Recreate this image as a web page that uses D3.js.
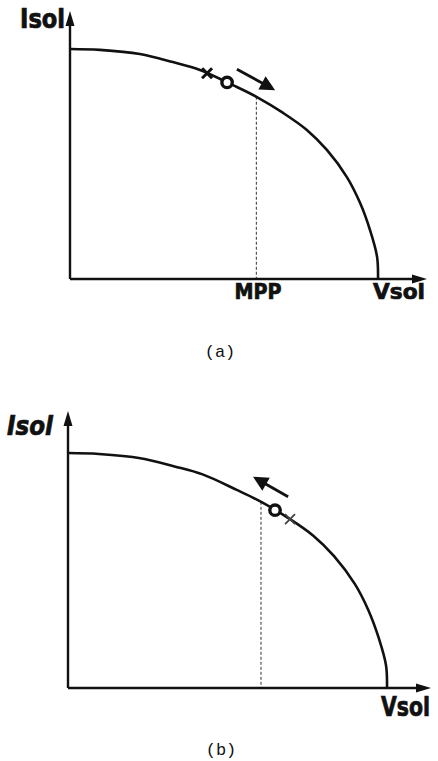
<!DOCTYPE html>
<html>
<head>
<meta charset="utf-8">
<script src="https://cdn.jsdelivr.net/npm/d3@7"></script>
<style>
  html, body { margin: 0; padding: 0; background: #fff; }
  svg { display: block; }
  .lbl { font-family: "Liberation Sans Narrow", "DejaVu Sans Condensed", "Liberation Sans", sans-serif; font-weight: bold; fill: #111; stroke: #111; stroke-width: 0.7; }
  .cap { font-family: "Liberation Mono", "DejaVu Sans Mono", monospace; fill: #111; }
</style>
</head>
<body>
<script>
// Photovoltaic I-V characteristic, normalised (percent of Voc and Isc)
const vsol = [0, 9.7, 22.7, 33.4, 42.2, 52.9, 60.7, 69.2, 76.9, 83.4, 89.9, 94.2, 97.4, 99.7, 100];
const isol = [100, 99.6, 97.8, 94.3, 90.9, 84.3, 79.1, 72.2, 64.8, 56.1, 44.3, 33.0, 21.3, 9.6, 0];

// Voltage of the maximum power point
const mppV = 60.5;

// Per case: sub-figure caption, present operating point (o), previous point (x),
// and the voltage span of the perturbation direction arrow
const captions = ["(a)", "(b)"];
const presentV = [51, 64.9];
const previousV = [44.5, 69.6];
const moveFrom = [54.2, 69];
const moveTo = [66.6, 58];
const moveLift = [7.8, 9];
const showMppLabel = [true, false];
const isolItalic = [false, true];

// Drawing frame of each sub-figure
const frames = [
  { x0: 70, x1: 378, y0: 279, y1: 49, xEnd: 427, yTop: 11,
    isol: { x: 20, y: 28, len: 45, fs: 26 }, vsolLbl: { x: 373, y: 299, len: 52, fs: 22 },
    mpp: { x: 258, y: 299, len: 47, fs: 22 }, cap: { x: 220, y: 357 } },
  { x0: 68, x1: 387, y0: 688, y1: 453, xEnd: 431, yTop: 411,
    isol: { x: 7, y: 435, len: 46, fs: 27 }, vsolLbl: { x: 381, y: 716, len: 49, fs: 26 },
    mpp: null, cap: { x: 221, y: 755 } }
];

const W = 438, H = 761;
const svg = d3.select("body").append("svg").attr("width", W).attr("height", H);

const curve = vsol.map((v, i) => [v, isol[i]]);
const currentAt = d3.scaleLinear().domain(vsol.slice(0, -1)).range(isol.slice(0, -1)).clamp(true);

function head(g, tip, angle, len, half) {
  const p = d3.path();
  const ca = Math.cos(angle), sa = Math.sin(angle);
  const bx = tip[0] - len * ca, by = tip[1] - len * sa;
  p.moveTo(tip[0], tip[1]);
  p.lineTo(bx - half * sa, by + half * ca);
  p.lineTo(bx + half * sa, by - half * ca);
  p.closePath();
  g.append("path").attr("d", p.toString()).attr("fill", "#111");
}

frames.forEach((f, k) => {
  const x = d3.scaleLinear().domain([0, 100]).range([f.x0, f.x1]);
  const y = d3.scaleLinear().domain([0, 100]).range([f.y0, f.y1]);
  const g = svg.append("g");

  // MPP guide
  g.append("line")
    .attr("x1", x(mppV)).attr("x2", x(mppV))
    .attr("y1", y(currentAt(mppV))).attr("y2", y(0))
    .attr("stroke", "#333").attr("stroke-width", 1).attr("stroke-dasharray", "3,2");

  // axes with arrowheads
  g.append("line").attr("x1", x(0)).attr("x2", f.xEnd - 6).attr("y1", y(0)).attr("y2", y(0))
    .attr("stroke", "#111").attr("stroke-width", 2.4);
  head(g, [f.xEnd, y(0)], 0, 15, 4.5);
  g.append("line").attr("x1", x(0)).attr("x2", x(0)).attr("y1", y(0)).attr("y2", f.yTop + 6)
    .attr("stroke", "#111").attr("stroke-width", 2.4);
  head(g, [x(0), f.yTop], -Math.PI / 2, 15, 4.5);

  // I-V curve
  const line = d3.line().x(d => x(d[0])).y(d => y(d[1])).curve(d3.curveCatmullRom.alpha(0.5));
  g.append("path").attr("d", line(curve)).attr("fill", "none")
    .attr("stroke", "#111").attr("stroke-width", 2.6);

  // previous operating point (x)
  const px = x(previousV[k]), py = y(currentAt(previousV[k]));
  const s = 5;
  g.append("path")
    .attr("d", `M${px - s},${py - s}L${px + s},${py + s}M${px - s},${py + s}L${px + s},${py - s}`)
    .attr("stroke", k === 0 ? "#111" : "#444").attr("stroke-width", k === 0 ? 3 : 1.8);

  // present operating point (o)
  g.append("circle")
    .attr("cx", x(presentV[k])).attr("cy", y(currentAt(presentV[k])))
    .attr("r", 5.2).attr("fill", "#fff").attr("stroke", "#111").attr("stroke-width", 3.4);

  // perturbation direction
  const a0 = [x(moveFrom[k]), y(currentAt(moveFrom[k]) + moveLift[k])];
  const a1 = [x(moveTo[k]), y(currentAt(moveTo[k]) + moveLift[k])];
  const ang = Math.atan2(a1[1] - a0[1], a1[0] - a0[0]);
  g.append("line").attr("x1", a0[0]).attr("y1", a0[1])
    .attr("x2", a1[0] - 8 * Math.cos(ang)).attr("y2", a1[1] - 8 * Math.sin(ang))
    .attr("stroke", "#111").attr("stroke-width", 2.8);
  head(g, a1, ang, 15, 7.5);

  // labels
  g.append("text").attr("class", "lbl").attr("x", f.isol.x).attr("y", f.isol.y)
    .attr("font-size", f.isol.fs).attr("textLength", f.isol.len).attr("lengthAdjust", "spacingAndGlyphs")
    .attr("font-style", isolItalic[k] ? "italic" : "normal")
    .text("Isol");
  g.append("text").attr("class", "lbl").attr("x", f.vsolLbl.x).attr("y", f.vsolLbl.y)
    .attr("font-size", f.vsolLbl.fs).attr("textLength", f.vsolLbl.len).attr("lengthAdjust", "spacingAndGlyphs")
    .text("Vsol");
  if (showMppLabel[k]) {
    g.append("text").attr("class", "lbl").attr("x", f.mpp.x - f.mpp.len / 2).attr("y", f.mpp.y)
      .attr("font-size", f.mpp.fs).attr("textLength", f.mpp.len).attr("lengthAdjust", "spacingAndGlyphs")
      .text("MPP");
  }
  g.append("text").attr("class", "cap").attr("x", f.cap.x).attr("y", f.cap.y)
    .attr("text-anchor", "middle").attr("font-size", 17).text(captions[k]);
});
</script>
</body>
</html>
